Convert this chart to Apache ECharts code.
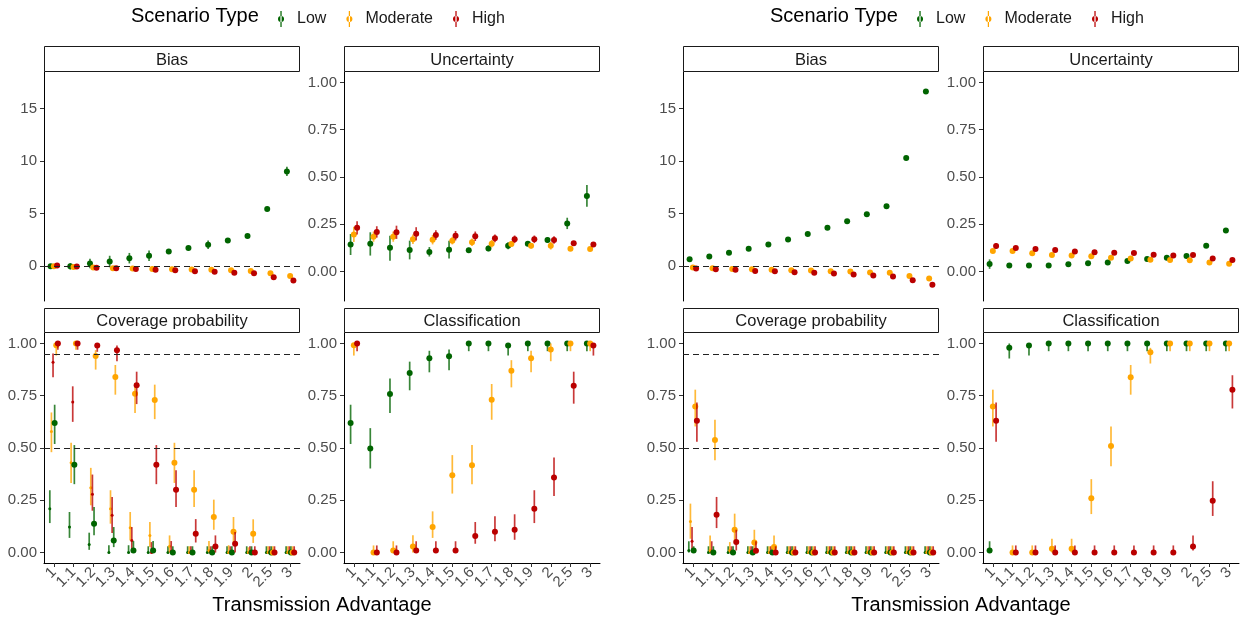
<!DOCTYPE html>
<html>
<head>
<meta charset="utf-8">
<script src="https://cdn.jsdelivr.net/npm/echarts@6/dist/echarts.min.js"></script>
<style>
  html, body { margin: 0; padding: 0; background: #fff; }
  #chart { width: 1246px; height: 617px; }
</style>
</head>
<body>
<div id="chart"></div>
<script>
// categories on the x axis
var categories = ['1', '1.1', '1.2', '1.3', '1.4', '1.5', '1.6', '1.7', '1.8', '1.9', '2', '2.5', '3'];
var scenarios = ['Low', 'Moderate', 'High'];
var panelTitles = ['Bias', 'Uncertainty', 'Coverage probability', 'Classification'];
var biasTicks = [0, 5, 10, 15];
var unitTicks = [0, 0.25, 0.5, 0.75, 1];
var biasRef = [0];
var coverageRef = [0.95, 0.5];

// each row: [estimate, lower, upper]
// ---- left figure ----
var leftBiasLow = [[-0.05,-0.25,0.15],[-0.05,-0.35,0.25],[0.22,-0.23,0.67],[0.41,-0.14,0.96],[0.73,0.23,1.23],[0.96,0.46,1.46],[1.37,1.17,1.57],[1.69,1.49,1.89],[2.01,1.61,2.41],[2.42,2.22,2.62],[2.84,2.64,3.04],[5.42,5.22,5.62],[9.0,8.55,9.45]];
var leftBiasMod = [[-0.05,-0.15,0.05],[-0.1,-0.2,0],[-0.16,-0.26,-0.06],[-0.22,-0.32,-0.12],[-0.26,-0.36,-0.16],[-0.29,-0.39,-0.19],[-0.32,-0.42,-0.22],[-0.35,-0.45,-0.25],[-0.38,-0.48,-0.28],[-0.41,-0.51,-0.31],[-0.48,-0.58,-0.38],[-0.7,-0.8,-0.6],[-0.96,-1.06,-0.86]];
var leftBiasHigh = [[0.03,-0.07,0.13],[-0.06,-0.16,0.04],[-0.19,-0.29,-0.09],[-0.22,-0.32,-0.12],[-0.29,-0.39,-0.19],[-0.38,-0.48,-0.28],[-0.41,-0.51,-0.31],[-0.51,-0.61,-0.41],[-0.57,-0.67,-0.47],[-0.67,-0.77,-0.57],[-0.7,-0.8,-0.6],[-1.08,-1.18,-0.98],[-1.4,-1.5,-1.3]];

var leftUncLow = [[0.144,0.088,0.199],[0.148,0.085,0.208],[0.127,0.058,0.19],[0.114,0.065,0.164],[0.104,0.08,0.13],[0.116,0.07,0.164],[0.113,0.1,0.126],[0.123,0.108,0.138],[0.137,0.119,0.155],[0.148,0.138,0.158],[0.167,0.152,0.182],[0.255,0.225,0.285],[0.4,0.343,0.458]];
var leftUncMod = [[0.197,0.157,0.237],[0.185,0.158,0.212],[0.185,0.158,0.212],[0.171,0.146,0.196],[0.169,0.144,0.194],[0.164,0.144,0.184],[0.155,0.135,0.175],[0.148,0.128,0.168],[0.146,0.131,0.161],[0.137,0.122,0.152],[0.137,0.117,0.157],[0.121,0.111,0.131],[0.12,0.11,0.13]];
var leftUncHigh = [[0.232,0.197,0.267],[0.21,0.18,0.24],[0.208,0.173,0.243],[0.2,0.165,0.235],[0.194,0.169,0.219],[0.19,0.165,0.215],[0.187,0.162,0.212],[0.176,0.156,0.196],[0.171,0.151,0.191],[0.171,0.151,0.191],[0.167,0.147,0.187],[0.15,0.14,0.16],[0.143,0.133,0.153]];

// coverage of the 50% interval (small points) and of the 95% interval (large points)
var leftCov50Low = [[0.21,0.141,0.298],[0.122,0.07,0.194],[0.038,0.013,0.095],[0,0,0.035],[0,0,0.035],[0,0,0.03],[0,0,0.03],[0,0,0.03],[0,0,0.03],[0,0,0.03],[0,0,0.03],[0,0,0.03],[0,0,0.03]];
var leftCov50Mod = [[0.579,0.48,0.67],[0.43,0.333,0.525],[0.31,0.226,0.405],[0.21,0.138,0.298],[0.119,0.058,0.194],[0.082,0.026,0.146],[0.03,0,0.082],[0,0,0.03],[0.01,0,0.055],[0,0,0.035],[0,0,0.025],[0,0,0.03],[0,0,0.03]];
var leftCov50High = [[0.91,0.838,0.952],[0.72,0.625,0.795],[0.279,0.2,0.373],[0.178,0.093,0.266],[0.058,0.01,0.122],[0,0,0.05],[0.005,0,0.055],[0,0,0.03],[0,0,0.03],[0,0,0.03],[0,0,0.03],[0,0,0.03],[0,0,0.03]];
var leftCov95Low = [[0.619,0.519,0.707],[0.42,0.327,0.514],[0.138,0.083,0.218],[0.058,0.026,0.122],[0.01,0,0.055],[0.01,0,0.055],[0,0,0.03],[0,0,0.03],[0,0,0.03],[0,0,0.03],[0,0,0.03],[0,0,0.03],[0,0,0.03]];
var leftCov95Mod = [[0.992,0.942,1],[1,0.97,1],[0.94,0.875,0.968],[0.84,0.755,0.897],[0.76,0.667,0.81],[0.73,0.638,0.803],[0.43,0.333,0.525],[0.3,0.218,0.394],[0.17,0.109,0.253],[0.1,0.042,0.17],[0.09,0.046,0.159],[0,0,0.03],[0,0,0.03]];
var leftCov95High = [[1,0.97,1],[1,0.97,1],[0.99,0.96,1],[0.968,0.915,0.99],[0.8,0.71,0.865],[0.42,0.327,0.514],[0.3,0.218,0.394],[0.09,0.048,0.16],[0.029,0,0.082],[0.042,0,0.098],[0,0,0.03],[0,0,0.03],[0,0,0.03]];

var leftClsLow = [[0.619,0.519,0.707],[0.498,0.402,0.595],[0.758,0.667,0.832],[0.859,0.776,0.913],[0.929,0.862,0.965],[0.939,0.872,0.971],[1,0.963,1],[1,0.963,1],[0.99,0.942,1],[1,0.963,1],[1,0.963,1],[1,0.963,1],[1,0.963,1]];
var leftClsMod = [[0.992,0.942,1],[0,0,0.034],[0.01,0,0.054],[0.029,0,0.083],[0.122,0.07,0.197],[0.37,0.282,0.466],[0.418,0.327,0.514],[0.731,0.635,0.806],[0.869,0.79,0.92],[0.929,0.862,0.965],[0.971,0.915,1],[1,0.963,1],[1,0.963,1]];
var leftClsHigh = [[1,0.963,1],[0,0,0.034],[0,0,0.034],[0.01,0,0.054],[0.01,0,0.054],[0.01,0,0.054],[0.079,0.042,0.146],[0.1,0.054,0.173],[0.109,0.061,0.183],[0.21,0.141,0.298],[0.359,0.271,0.455],[0.798,0.712,0.865],[0.99,0.942,1]];

// ---- right figure ----
var rightBiasLow = [[0.64,0.5,0.78],[0.89,0.84,0.94],[1.24,1.19,1.29],[1.63,1.58,1.68],[2.04,1.99,2.09],[2.52,2.47,2.57],[3.03,2.98,3.08],[3.64,3.59,3.69],[4.24,4.19,4.29],[4.91,4.86,4.96],[5.68,5.63,5.73],[10.27,10.22,10.32],[16.62,16.57,16.67]];
var rightBiasMod = [[-0.16,-0.21,-0.11],[-0.22,-0.27,-0.17],[-0.29,-0.34,-0.24],[-0.32,-0.37,-0.27],[-0.38,-0.43,-0.33],[-0.41,-0.46,-0.36],[-0.45,-0.5,-0.4],[-0.51,-0.56,-0.46],[-0.54,-0.59,-0.49],[-0.64,-0.69,-0.59],[-0.67,-0.72,-0.62],[-0.96,-1.01,-0.91],[-1.21,-1.26,-1.16]];
var rightBiasHigh = [[-0.26,-0.31,-0.21],[-0.32,-0.37,-0.27],[-0.38,-0.43,-0.33],[-0.48,-0.53,-0.43],[-0.51,-0.56,-0.46],[-0.61,-0.66,-0.56],[-0.67,-0.72,-0.62],[-0.73,-0.78,-0.68],[-0.83,-0.88,-0.78],[-0.93,-0.98,-0.88],[-1.02,-1.07,-0.97],[-1.37,-1.42,-1.32],[-1.79,-1.84,-1.74]];

var rightUncLow = [[0.04,0.015,0.065],[0.032,0.027,0.037],[0.033,0.028,0.038],[0.033,0.028,0.038],[0.039,0.034,0.044],[0.044,0.039,0.049],[0.049,0.044,0.054],[0.056,0.051,0.061],[0.067,0.062,0.072],[0.074,0.069,0.079],[0.083,0.078,0.088],[0.137,0.132,0.142],[0.217,0.212,0.222]];
var rightUncMod = [[0.109,0.101,0.117],[0.109,0.101,0.117],[0.097,0.089,0.105],[0.088,0.08,0.096],[0.086,0.078,0.094],[0.081,0.073,0.089],[0.074,0.066,0.082],[0.069,0.061,0.077],[0.063,0.055,0.071],[0.062,0.054,0.07],[0.06,0.052,0.068],[0.049,0.041,0.057],[0.042,0.034,0.05]];
var rightUncHigh = [[0.136,0.121,0.151],[0.125,0.115,0.135],[0.12,0.11,0.13],[0.114,0.104,0.124],[0.107,0.099,0.115],[0.102,0.094,0.11],[0.1,0.092,0.108],[0.099,0.091,0.107],[0.09,0.082,0.098],[0.085,0.077,0.093],[0.088,0.08,0.096],[0.07,0.062,0.078],[0.062,0.054,0.07]];

var rightCov50Low = [[0.01,0,0.054],[0,0,0.03],[0,0,0.03],[0,0,0.03],[0,0,0.03],[0,0,0.03],[0,0,0.03],[0,0,0.03],[0,0,0.03],[0,0,0.03],[0,0,0.03],[0,0,0.03],[0,0,0.03]];
var rightCov50Mod = [[0.149,0.066,0.234],[0.01,0,0.082],[0.01,0,0.05],[0,0,0.03],[0,0,0.03],[0,0,0.03],[0,0,0.03],[0,0,0.03],[0,0,0.03],[0,0,0.03],[0,0,0.03],[0,0,0.03],[0,0,0.03]];
var rightCov50High = [[0.054,0.01,0.122],[0,0,0.054],[0,0,0.03],[0,0,0.03],[0,0,0.03],[0,0,0.03],[0,0,0.03],[0,0,0.03],[0,0,0.03],[0,0,0.03],[0,0,0.03],[0,0,0.03],[0,0,0.03]];
var rightCov95Low = [[0.01,0,0.03],[0,0,0.03],[0,0,0.03],[0,0,0.03],[0,0,0.03],[0,0,0.03],[0,0,0.03],[0,0,0.03],[0,0,0.03],[0,0,0.03],[0,0,0.03],[0,0,0.03],[0,0,0.03]];
var rightCov95Mod = [[0.699,0.603,0.779],[0.538,0.442,0.635],[0.109,0.042,0.186],[0.048,0,0.109],[0.026,0,0.082],[0,0,0.03],[0,0,0.03],[0,0,0.03],[0,0,0.03],[0,0,0.03],[0,0,0.03],[0,0,0.03],[0,0,0.03]];
var rightCov95High = [[0.63,0.53,0.718],[0.181,0.117,0.266],[0.05,0.01,0.109],[0.008,0,0.054],[0,0,0.03],[0,0,0.03],[0,0,0.03],[0,0,0.03],[0,0,0.03],[0,0,0.03],[0,0,0.03],[0,0,0.03],[0,0,0.03]];

var rightClsLow = [[0.01,0,0.054],[0.979,0.928,1],[0.99,0.942,1],[1,0.963,1],[1,0.963,1],[1,0.963,1],[1,0.963,1],[1,0.963,1],[1,0.963,1],[1,0.963,1],[1,0.963,1],[1,0.963,1],[1,0.963,1]];
var rightClsMod = [[0.699,0.603,0.779],[0,0,0.034],[0,0,0.034],[0.018,0,0.066],[0.018,0,0.066],[0.26,0.184,0.351],[0.51,0.413,0.603],[0.838,0.755,0.897],[0.958,0.904,0.979],[1,0.963,1],[1,0.963,1],[1,0.963,1],[1,0.963,1]];
var rightClsHigh = [[0.63,0.53,0.718],[0,0,0.034],[0,0,0.034],[0,0,0.034],[0,0,0.034],[0,0,0.034],[0,0,0.034],[0,0,0.034],[0,0,0.034],[0,0,0.034],[0.029,0.01,0.082],[0.248,0.175,0.341],[0.779,0.689,0.848]];

var colors = { Low: '#006400', Moderate: '#FFA500', High: '#BA0000' };
var fontFamily = '"Liberation Sans", Arial, Helvetica, sans-serif';
var legendIcon = 'path://M9.3,1H10.7V19H9.3Z M6.6,10A3.4,3.4 0 1 0 13.4,10A3.4,3.4 0 1 0 6.6,10Z';

var figures = [
    { ox: 0,   bias: [leftBiasLow, leftBiasMod, leftBiasHigh], unc: [leftUncLow, leftUncMod, leftUncHigh],
      cov50: [leftCov50Low, leftCov50Mod, leftCov50High], cov95: [leftCov95Low, leftCov95Mod, leftCov95High],
      cls: [leftClsLow, leftClsMod, leftClsHigh] },
    { ox: 639, bias: [rightBiasLow, rightBiasMod, rightBiasHigh], unc: [rightUncLow, rightUncMod, rightUncHigh],
      cov50: [rightCov50Low, rightCov50Mod, rightCov50High], cov95: [rightCov95Low, rightCov95Mod, rightCov95High],
      cls: [rightClsLow, rightClsMod, rightClsHigh] }
];

// panel layout (px): column lefts, row tops
var colLeft = [44, 344];
var panelWidth = 256;
var rowTop = [72, 333];
var rowHeight = [229, 230];
var stripTop = [46, 308];
var yRanges = [[-3.35, 18.47], [-0.155, 1.055], [-0.05, 1.05], [-0.05, 1.05]];

// dodge is a fraction of the category band
function pointRenderer(dodge, radius, color) {
    return function (params, api) {
        var shift = dodge * api.size([1, 0])[0];
        var mid = api.coord([api.value(0), api.value(1)]);
        var lo = api.coord([api.value(0), api.value(2)]);
        var hi = api.coord([api.value(0), api.value(3)]);
        var x = mid[0] + shift;
        return {
            type: 'group',
            children: [
                { type: 'line', shape: { x1: x, y1: lo[1], x2: x, y2: hi[1] },
                  style: { stroke: color, lineWidth: 1.7, opacity: 0.78 } },
                { type: 'circle', shape: { cx: x, cy: mid[1], r: radius },
                  style: { fill: color } }
            ]
        };
    };
}

function makeSeries(name, rows, gi, dodge, radius, refs) {
    var s = {
        type: 'custom',
        name: name,
        xAxisIndex: gi,
        yAxisIndex: gi,
        itemStyle: { color: colors[name] },
        encode: { x: 0, y: 1 },
        silent: true,
        renderItem: pointRenderer(dodge, radius, colors[name]),
        data: rows.map(function (r, i) { return [i, r[0], r[1], r[2]]; })
    };
    if (refs) {
        s.markLine = {
            silent: true,
            symbol: 'none',
            label: { show: false },
            lineStyle: { color: '#222', width: 1.2, type: [6, 4] },
            data: refs.map(function (v) { return { yAxis: v }; })
        };
    }
    return s;
}

var grids = [], xAxes = [], yAxes = [], series = [], graphics = [], legends = [];
var dodge3 = [-0.165, 0, 0.165];
var dodge6 = [-0.205, -0.123, -0.041, 0.041, 0.123, 0.205];

figures.forEach(function (fig, f) {
    for (var p = 0; p < 4; p++) {
        var row = p < 2 ? 0 : 1;
        var col = p % 2;
        var gi = f * 4 + p;
        var left = fig.ox + colLeft[col];
        grids.push({ left: left, top: rowTop[row], width: panelWidth, height: rowHeight[row] });
        xAxes.push({
            gridIndex: gi, type: 'category', data: categories, boundaryGap: true,
            show: row === 1,
            axisLine: { show: true, onZero: false, lineStyle: { color: '#000', width: 1 } },
            axisTick: { show: true, length: 4, alignWithLabel: true, interval: 0, lineStyle: { color: '#333' } },
            axisLabel: {
                interval: 0, rotate: 45, margin: 7, fontSize: 15, color: '#4D4D4D', fontFamily: fontFamily
            },
            splitLine: { show: false }
        });
        var isBias = p === 0;
        yAxes.push({
            gridIndex: gi, type: 'value', min: yRanges[p][0], max: yRanges[p][1],
            axisLine: { show: true, onZero: false, lineStyle: { color: '#000', width: 1 } },
            axisTick: { show: true, length: 4, customValues: isBias ? biasTicks : unitTicks, lineStyle: { color: '#333' } },
            axisLabel: {
                customValues: isBias ? biasTicks : unitTicks, margin: 7, fontSize: 15, color: '#4D4D4D', fontFamily: fontFamily,
                formatter: isBias ? function (v) { return String(v); } : function (v) { return v.toFixed(2); }
            },
            splitLine: { show: false }
        });
        // facet strip
        graphics.push({
            type: 'rect', shape: { x: left + 0.5, y: stripTop[row] + 0.5, width: panelWidth - 1, height: rowTop[row] - stripTop[row] - 1 },
            style: { fill: '#fff', stroke: '#1a1a1a', lineWidth: 1 }, silent: true
        });
        graphics.push({
            type: 'text', x: left + panelWidth / 2, y: (stripTop[row] + rowTop[row]) / 2 + 1,
            style: { text: panelTitles[p], fill: '#1a1a1a', font: '16.5px ' + fontFamily, align: 'center', verticalAlign: 'middle' },
            silent: true
        });
    }
    scenarios.forEach(function (name, k) {
        series.push(makeSeries(name, fig.bias[k], f * 4, dodge3[k], 3, k === 0 ? biasRef : null));
        series.push(makeSeries(name, fig.unc[k], f * 4 + 1, dodge3[k], 3, null));
    });
    scenarios.forEach(function (name, k) {
        series.push(makeSeries(name, fig.cov50[k], f * 4 + 2, dodge6[k], 1.5, k === 0 ? coverageRef : null));
    });
    scenarios.forEach(function (name, k) {
        series.push(makeSeries(name, fig.cov95[k], f * 4 + 2, dodge6[k + 3], 3, null));
    });
    scenarios.forEach(function (name, k) {
        series.push(makeSeries(name, fig.cls[k], f * 4 + 3, dodge3[k], 3, null));
    });
    graphics.push({
        type: 'text', x: fig.ox + 322, y: 605,
        style: { text: 'Transmission Advantage', fill: '#000', font: '20px ' + fontFamily, align: 'center', verticalAlign: 'middle' },
        silent: true
    });
    graphics.push({
        type: 'text', x: fig.ox + 131, y: 16,
        style: { text: 'Scenario Type', fill: '#000', font: '20px ' + fontFamily, align: 'left', verticalAlign: 'middle' },
        silent: true
    });
    legends.push({
        left: fig.ox + 273, top: 6,
        itemWidth: 16, itemHeight: 16, itemGap: 20,
        selectedMode: false,
        textStyle: { fontSize: 16, color: '#1a1a1a', fontFamily: fontFamily, padding: [0, 0, 0, 3] },
        data: scenarios.map(function (n) { return { name: n, icon: legendIcon }; })
    });
});

var chart = echarts.init(document.getElementById('chart'));
chart.setOption({
    animation: false,
    backgroundColor: '#fff',
    grid: grids,
    xAxis: xAxes,
    yAxis: yAxes,
    legend: legends,
    graphic: { elements: graphics },
    series: series
});
</script>
</body>
</html>
